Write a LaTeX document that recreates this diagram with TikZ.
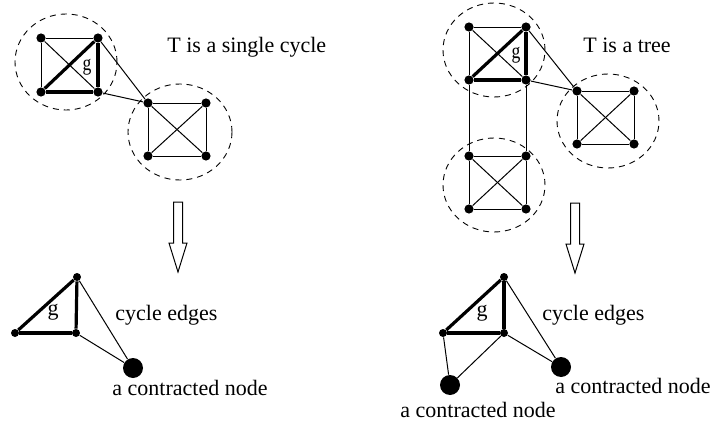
\documentclass[tikz,border=0pt]{standalone}
\usepackage{fontspec}
\setmainfont{Liberation Serif}
\usetikzlibrary{arrows}

\tikzset{
	vtx/.style={circle,fill,inner sep=0pt,minimum size=4.6pt},
	svtx/.style={circle,fill,inner sep=0pt,minimum size=4pt},
	bigvtx/.style={circle,fill,inner sep=0pt,minimum size=10pt},
	thinedge/.style={line width=0.5pt},
	thickedge/.style={line width=1.6pt},
	cluster/.style={dash pattern=on 3pt off 2.5pt,line width=0.45pt},
	lbl/.style={anchor=base west,inner sep=0pt,font=\fontsize{11}{13}\selectfont},
	glbl/.style={inner sep=0pt,font=\fontsize{11}{13}\selectfont},
	hollow arrow/.pic={
		\draw[line width=0.5pt] (-4.5,0) -- (4.5,0) -- (4.5,41) -- (9,41)
		-- (0,70) -- (-9,41) -- (-4.5,41) -- cycle;}
}

\begin{document}
\begin{tikzpicture}[x=0.5pt,y=-0.5pt]
		\useasboundingbox (0,0) rectangle (713,428);
		% left: T is a single cycle
		\node[vtx] (A1) at (41,38) {};
		\node[vtx] (A2) at (98,38) {};
		\node[vtx] (A3) at (41,92) {};
		\node[vtx] (A4) at (98,92) {};
		\node[vtx] (B1) at (148,103) {};
		\node[vtx] (B2) at (206,103) {};
		\node[vtx] (B3) at (148,156) {};
		\node[vtx] (B4) at (206,156) {};
		\node[glbl,xscale=0.8] (gA) at (87,67) {g};
		\node[lbl] (capA) at (167,53) {T is a single cycle};
		\draw[cluster] (66,62) ellipse (25.5pt and 24pt);
		\draw[cluster] (180,132) ellipse (26pt and 24pt);
		%
		\path[thinedge]
		(A1) edge (A2) (A1) edge (A3) (A1) edge (A4)
		(A2) edge (B1) (A4) edge (B1)
		(B1) edge (B2) (B1) edge (B3) (B1) edge (B4)
		(B2) edge (B4) (B2) edge (B3) (B3) edge (B4);
		\path[thickedge]
		(A3) edge (A2) (A3) edge (A4) (A2) edge (A4);
		%
		\pic at (178,202) {hollow arrow};
		%
		\node[svtx] (P1) at (77,277) {};
		\node[svtx] (P2) at (15,333) {};
		\node[svtx] (P3) at (76,333) {};
		\node[bigvtx] (K1) at (133,368) {};
		\node[glbl] (gP) at (53,312) {g};
		\node[lbl] (cycP) at (115,320) {cycle edges};
		\node[lbl] (conK1) at (112,395) {a contracted node};
		\path[thickedge]
		(P2) edge (P1) (P1) edge (P3) (P2) edge (P3);
		\path[thinedge]
		(P1) edge (K1) (P3) edge (K1);
		%
		% right: T is a tree
		\node[vtx] (C1) at (469,27) {};
		\node[vtx] (C2) at (526,27) {};
		\node[vtx] (C3) at (469,80) {};
		\node[vtx] (C4) at (526,80) {};
		\node[vtx] (D1) at (577,91) {};
		\node[vtx] (D2) at (634,91) {};
		\node[vtx] (D3) at (577,144) {};
		\node[vtx] (D4) at (634,144) {};
		\node[vtx] (E1) at (469,156) {};
		\node[vtx] (E2) at (526,156) {};
		\node[vtx] (E3) at (469,209) {};
		\node[vtx] (E4) at (526,209) {};
		\node[glbl,xscale=0.8] (gC) at (516,55) {g};
		\node[lbl] (capC) at (583,53) {T is a tree};
		\draw[cluster] (494,50) ellipse (25.5pt and 23.5pt);
		\draw[cluster] (608,121) ellipse (25.5pt and 23.5pt);
		\draw[cluster] (494,185) ellipse (25.5pt and 23.5pt);
		%
		\path[thinedge]
		(C1) edge (C2) (C1) edge (C3) (C1) edge (C4)
		(C2) edge (D1) (C4) edge (D1)
		(C3) edge (E1) (C4) edge (E2)
		(D1) edge (D2) (D1) edge (D3) (D1) edge (D4)
		(D2) edge (D4) (D2) edge (D3) (D3) edge (D4)
		(E1) edge (E2) (E1) edge (E3) (E1) edge (E4)
		(E2) edge (E4) (E2) edge (E3) (E3) edge (E4);
		\path[thickedge]
		(C3) edge (C2) (C3) edge (C4) (C2) edge (C4);
		%
		\pic at (575,203) {hollow arrow};
		%
		\node[svtx] (Q1) at (504,277) {};
		\node[svtx] (Q2) at (443,333) {};
		\node[svtx] (Q3) at (504,333) {};
		\node[bigvtx] (K2) at (561,367) {};
		\node[bigvtx] (K3) at (450,385) {};
		\node[glbl] (gQ) at (482,313) {g};
		\node[lbl] (cycQ) at (542,320) {cycle edges};
		\node[lbl] (conK2) at (555,393) {a contracted node};
		\node[lbl] (conK3) at (400,417) {a contracted node};
		\path[thickedge]
		(Q2) edge (Q1) (Q1) edge (Q3) (Q2) edge (Q3);
		\path[thinedge]
		(Q1) edge (K2) (Q3) edge (K2)
		(Q3) edge (K3) (Q2) edge (K3);
	\end{tikzpicture}
\end{document}
